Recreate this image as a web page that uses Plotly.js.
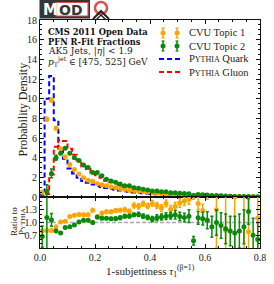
<!DOCTYPE html>
<html><head><meta charset="utf-8">
<script src="https://cdn.plot.ly/plotly-3.0.1.min.js"></script>
<style>html,body{margin:0;padding:0;background:#fff}#plot{width:274px;height:284px}</style>
</head><body><div id="plot"></div>
<script>
// ---- data ----
const binWidth = 1/60;
const nBins = 48;
const pythiaQuark = [0.6,10.0,12.3,7.8,4.7,3.9,2.9,2.4,1.97,1.62,1.45,1.28,1.15,1.02,0.92,0.83,0.74,0.66,0.59,0.53,0.47,0.42,0.38,0.34,0.30,0.27,0.24,0.21,0.19,0.17,0.15,0.13,0.12,0.10,0.09,0.08,0.07,0.06,0.05,0.045,0.04,0.035,0.03,0.025,0.02,0.02,0.015,0.01];
const pythiaGluon = [0.03,0.3,2.3,5.1,5.8,5.7,4.9,4.3,3.7,3.1,2.85,2.5,2.2,1.95,1.65,1.5,1.38,1.2,1.0,1.0,0.8,0.74,0.68,0.62,0.56,0.52,0.48,0.45,0.40,0.37,0.34,0.31,0.28,0.26,0.23,0.20,0.18,0.16,0.14,0.12,0.11,0.10,0.08,0.07,0.06,0.05,0.04,0.035];
const topic1 = [0.48,7.9,9.85,7.0,4.9,4.1,3.3,2.8,2.35,1.95,1.7,1.6,1.35,1.25,1.15,1.04,0.95,0.86,0.77,0.67,0.66,0.58,0.55,0.48,0.44,0.38,0.33,0.30,0.25,0.24,0.22,0.20,0.19,0.17,0.13,0.10,0.12,0.11,0.06,0.09,0.03,0.07,0.045,0.05,0.035,0.016,0.025,0.01];
const topic1Err = [0.1,0.2,0.2,0.15,0.1,0.08,0.07,0.06,0.05,0.05,0.04,0.04,0.04,0.04,0.03,0.03,0.03,0.03,0.03,0.03,0.03,0.03,0.03,0.03,0.03,0.03,0.03,0.03,0.03,0.03,0.03,0.03,0.03,0.03,0.03,0.03,0.04,0.04,0.04,0.04,0.04,0.04,0.04,0.04,0.04,0.04,0.04,0.04];
const topic2 = [0.02,0.55,2.4,4.0,4.45,4.95,4.45,4.0,3.7,3.25,3.0,2.5,2.5,2.15,1.8,1.63,1.5,1.32,1.15,1.15,0.95,0.88,0.78,0.71,0.61,0.61,0.54,0.54,0.44,0.44,0.38,0.35,0.32,0.16,0.26,0.22,0.20,0.15,0.14,0.12,0.10,0.08,0.06,0.05,0.05,0.05,0.03,0.02];
const topic2Err = [0.05,0.7,0.45,0.25,0.12,0.1,0.08,0.07,0.06,0.05,0.05,0.05,0.05,0.04,0.04,0.04,0.04,0.03,0.03,0.03,0.03,0.03,0.03,0.03,0.03,0.03,0.03,0.03,0.03,0.03,0.03,0.03,0.03,0.03,0.03,0.03,0.03,0.03,0.03,0.03,0.03,0.03,0.03,0.03,0.03,0.03,0.03,0.03];
const ratio1 = [0.80,0.81,0.81,0.90,1.01,1.03,1.14,1.17,1.19,1.18,1.18,1.29,1.13,1.22,1.25,1.25,1.28,1.29,1.30,1.26,1.40,1.38,1.44,1.39,1.45,1.40,1.34,1.45,1.31,1.38,1.46,1.50,1.55,1.75,1.45,1.28,1.90,2.3,1.30,2.4,0.82,2.5,1.6,2.6,1.9,0.78,2.6,1.1];
const ratio1Err = [0.02,0.02,0.02,0.02,0.02,0.02,0.02,0.03,0.03,0.03,0.03,0.04,0.04,0.04,0.04,0.04,0.04,0.04,0.05,0.05,0.06,0.06,0.06,0.06,0.07,0.07,0.08,0.08,0.09,0.09,0.1,0.1,0.12,0.2,0.15,0.15,0.35,0.4,0.9,0.5,0.9,0.5,1.2,0.6,1.5,1.0,0.6,0.9];
const ratio2 = [0.67,1.12,1.06,0.80,0.75,0.88,0.90,0.94,1.01,1.05,1.05,1.00,1.13,1.10,1.10,1.09,1.09,1.11,1.15,1.15,1.18,1.19,1.15,1.12,1.08,1.11,1.13,1.15,1.16,1.18,1.14,1.12,1.15,0.57,1.11,1.09,1.05,0.90,1.0,0.93,0.85,0.80,0.75,0.80,0.90,1.26,0.70,0.60];
const ratio2Err = [0.25,1.2,0.15,0.03,0.02,0.02,0.02,0.02,0.02,0.02,0.02,0.03,0.03,0.03,0.03,0.03,0.04,0.04,0.04,0.04,0.04,0.05,0.05,0.05,0.06,0.07,0.07,0.08,0.08,0.1,0.1,0.1,0.15,0.1,0.15,0.15,0.2,0.25,0.3,0.3,0.35,0.35,0.4,0.4,0.4,0.3,0.4,0.4];
const xTickVals = [0.0,0.2,0.4,0.6,0.8];
const xTickText = ['0.0','0.2','0.4','0.6','0.8'];
const yTickVals = [0,2,4,6,8,10,12,14,16,18];
const rTickVals = [0.7,1.0,1.3];
const rTickText = ['0.7','1.0','1.3'];

// ---- derived ----
const centers = [], edges = [];
for (let i = 0; i <= nBins; i++) edges.push(i*binWidth);
for (let i = 0; i < nBins; i++) centers.push((i+0.5)*binWidth);
function stepXY(vals){
  const xs=[0], ys=[0];
  for (let i=0;i<nBins;i++){ xs.push(edges[i]); ys.push(vals[i]); }
  xs.push(edges[nBins]); ys.push(vals[nBins-1]);
  xs.push(edges[nBins]); ys.push(0);
  return {xs, ys};
}
const ORANGE='#FFA500', GREEN='#0a8a0a', BLUE='#0000FF', RED='#FF0000';
const serif='"Liberation Serif", "DejaVu Serif", serif';
const dserif='"DejaVu Serif", serif';
const q = stepXY(pythiaQuark), g = stepXY(pythiaGluon);
const traces = [
  {x:q.xs,y:q.ys,type:'scatter',mode:'lines',line:{shape:'hv',color:BLUE,width:2,dash:'5px,3px'},xaxis:'x',yaxis:'y',hoverinfo:'skip'},
  {x:g.xs,y:g.ys,type:'scatter',mode:'lines',line:{shape:'hv',color:RED,width:2,dash:'5px,3px'},xaxis:'x',yaxis:'y',hoverinfo:'skip'},
  {x:centers,y:topic1,type:'scatter',mode:'markers',marker:{color:ORANGE,size:5},error_y:{type:'data',array:topic1Err,color:ORANGE,thickness:1.5,width:1.5},xaxis:'x',yaxis:'y'},
  {x:centers,y:topic2,type:'scatter',mode:'markers',marker:{color:GREEN,size:5},error_y:{type:'data',array:topic2Err,color:GREEN,thickness:1.5,width:1.5},xaxis:'x',yaxis:'y'},
  {x:centers,y:ratio1,type:'scatter',mode:'markers',marker:{color:ORANGE,size:5},error_y:{type:'data',array:ratio1Err,color:ORANGE,thickness:1.5,width:1.5},xaxis:'x2',yaxis:'y2'},
  {x:centers,y:ratio2,type:'scatter',mode:'markers',marker:{color:GREEN,size:5},error_y:{type:'data',array:ratio2Err,color:GREEN,thickness:1.5,width:1.5},xaxis:'x2',yaxis:'y2'}
];
// pixel -> paper helpers (for decorations only)
const L=40,R=260,T=20,B=248;
const px = v => (v-L)/(R-L);
const py = v => (B-v)/(B-T);
const split = 51/228;
const tickFont = {family:serif,size:10,color:'#222'};
const axBase = {showline:true,linecolor:'#111',linewidth:1,mirror:'allticks',ticks:'inside',ticklen:4,tickcolor:'#111',showgrid:false,zeroline:false,tickfont:tickFont};
const shapes = [
  {type:'line',xref:'paper',yref:'y2',x0:0,x1:1,y0:1,y1:1,line:{color:'#aaaaaa',width:1.5,dash:'4px,2px'},layer:'below'},
  // logo
  {type:'rect',xref:'paper',yref:'paper',x0:px(39.5),x1:px(90),y0:py(0),y1:py(18.5),fillcolor:'#353535',line:{width:0}},
  {type:'rect',xref:'paper',yref:'paper',x0:px(56),x1:px(88),y0:py(2.5),y1:py(16),fillcolor:'#ffffff',line:{color:'#d9534f',width:1.2}},
  {type:'circle',xref:'paper',yref:'paper',x0:px(95),x1:px(107),y0:py(2),y1:py(14),line:{color:'#d9534f',width:2.5}},
  {type:'path',xref:'paper',yref:'paper',path:`M ${px(93)} ${py(19)} L ${px(101)} ${py(11)} L ${px(109)} ${py(19)}`,line:{color:'#222',width:2}},
  {type:'path',xref:'paper',yref:'paper',path:`M ${px(96)} ${py(20)} L ${px(101)} ${py(15)} L ${px(106)} ${py(20)}`,line:{color:'#222',width:1.5}},
];
// legend symbols
const legRows=[33,46,59,72];
[[ORANGE,0],[GREEN,1]].forEach(([c,r])=>{
  [163,177].forEach(xx=>{
    shapes.push({type:'line',xref:'paper',yref:'paper',x0:px(xx),x1:px(xx),y0:py(legRows[r]-5),y1:py(legRows[r]+5),line:{color:c,width:1.5}});
    shapes.push({type:'line',xref:'paper',yref:'paper',x0:px(xx-1.5),x1:px(xx+1.5),y0:py(legRows[r]-5),y1:py(legRows[r]-5),line:{color:c,width:1.2}});
    shapes.push({type:'line',xref:'paper',yref:'paper',x0:px(xx-1.5),x1:px(xx+1.5),y0:py(legRows[r]+5),y1:py(legRows[r]+5),line:{color:c,width:1.2}});
    shapes.push({type:'circle',xref:'paper',yref:'paper',x0:px(xx-2.5),x1:px(xx+2.5),y0:py(legRows[r]-2.5),y1:py(legRows[r]+2.5),fillcolor:c,line:{width:0}});
  });
});
[[BLUE,2],[RED,3]].forEach(([c,r])=>{
  shapes.push({type:'line',xref:'paper',yref:'paper',x0:px(159),x1:px(181),y0:py(legRows[r]),y1:py(legRows[r]),line:{color:c,width:2,dash:'5px,3px'}});
});
const ann = (text,x,y,opt={}) => Object.assign({text,xref:'paper',yref:'paper',x:px(x),y:py(y),xanchor:'left',yanchor:'middle',showarrow:false,font:{family:serif,size:10.5,color:'#222'}},opt);
const small = (s,fs) => `<span style="font-size:${fs}px">${s}</span>`;
const annotations = [
  ann('CVU Topic 1',187,legRows[0]),
  ann('CVU Topic 2',187,legRows[1]),
  ann('P'+small('YTHIA',8)+' Quark',187,legRows[2]),
  ann('P'+small('YTHIA',8)+' Gluon',187,legRows[3]),
  ann('<b>CMS 2011 Open Data</b>',46,32,{font:{family:dserif,size:8.3,color:'#111'}}),
  ann('<b>PFN R-Fit Fractions</b>',46,41.5,{font:{family:dserif,size:8.3,color:'#111'}}),
  ann('AK5 Jets, |<i>η</i>| &lt; 1.9',46,51,{font:{family:dserif,size:9,color:'#222'}}),
  ann('<i>p</i><sub>T</sub><sup>jet</sup> ∈ [475, 525] GeV',46,61,{font:{family:dserif,size:9,color:'#222'}}),
  ann('<b>M</b>',41,9.5,{font:{family:'"DejaVu Sans", sans-serif',size:15,color:'#ffffff'}}),
  ann('<b>OD</b>',57,9.5,{font:{family:'"DejaVu Sans", sans-serif',size:14,color:'#353535'}}),
  ann('Probability Density',22.5,110,{xanchor:'center',yanchor:'middle',textangle:-90,font:{family:serif,size:12,color:'#222'}}),
  ann('Ratio to',14,222,{xanchor:'center',yanchor:'middle',textangle:-90,font:{family:serif,size:9,color:'#222'}}),
  ann('P'+small('YTHIA',7),22,222,{xanchor:'center',yanchor:'middle',textangle:-90,font:{family:serif,size:9,color:'#222'}}),
  ann('1-subjettiness <i>τ</i><sub>1</sub><sup>(β=1)</sup>',150,271,{xanchor:'center',font:{family:serif,size:11,color:'#222'}}),
];
const layout = {
  width:274,height:284,margin:{l:L,r:274-R,t:T,b:284-B},
  paper_bgcolor:'#fff',plot_bgcolor:'#fff',showlegend:false,
  xaxis:Object.assign({},axBase,{domain:[0,1],range:[0,0.8],anchor:'y',matches:'x2',showticklabels:false,tickvals:xTickVals,minor:{dtick:0.05,ticks:'inside',ticklen:2,tickcolor:'#111'}}),
  yaxis:Object.assign({},axBase,{domain:[split,1],range:[0,18],anchor:'x',tickvals:yTickVals,minor:{dtick:0.5,ticks:'inside',ticklen:2,tickcolor:'#111'}}),
  xaxis2:Object.assign({},axBase,{domain:[0,1],range:[0,0.8],anchor:'y2',tickvals:xTickVals,ticktext:xTickText,minor:{dtick:0.05,ticks:'inside',ticklen:2,tickcolor:'#111'}}),
  yaxis2:Object.assign({},axBase,{domain:[0,split],range:[0.4,1.6],anchor:'x2',tickvals:rTickVals,ticktext:rTickText,minor:{dtick:0.1,ticks:'inside',ticklen:2,tickcolor:'#111'}}),
  shapes, annotations
};
Plotly.newPlot('plot',traces,layout,{staticPlot:true,displayModeBar:false});
</script></body></html>
